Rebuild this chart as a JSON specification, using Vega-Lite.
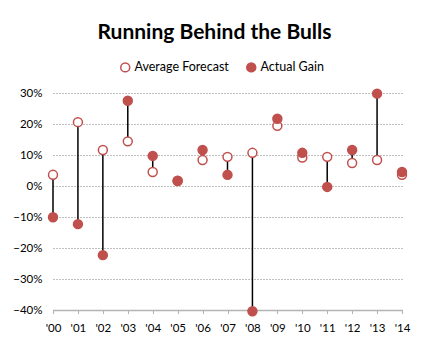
{
  "$schema": "https://vega.github.io/schema/vega-lite/v6.json",
  "autosize": "none",
  "width": 349,
  "height": 217,
  "padding": {"left": 53, "top": 93, "right": 29, "bottom": 40},
  "background": "white",
  "config": {
    "font": "Lato",
    "view": {"stroke": null},
    "axisY": {
      "title": null,
      "format": ".0%",
      "values": [-0.4, -0.3, -0.2, -0.1, 0, 0.1, 0.2, 0.3],
      "labelOverlap": false,
      "labelFont": "Lato",
      "labelFontSize": 11.5,
      "labelColor": "black",
      "labelPadding": 11,
      "ticks": false,
      "domain": false,
      "grid": true,
      "gridColor": "#808080",
      "gridDash": [1, 2],
      "gridWidth": 1
    }
  },
  "title": {
    "text": "Running Behind the Bulls",
    "font": "Lato",
    "fontSize": 21,
    "fontWeight": "bold",
    "color": "black",
    "anchor": "middle",
    "dx": -13,
    "offset": 18
  },
  "data": {
    "values": [
      {"year": "'00", "forecast": 0.036, "actual": -0.101},
      {"year": "'01", "forecast": 0.206, "actual": -0.123},
      {"year": "'02", "forecast": 0.116, "actual": -0.223},
      {"year": "'03", "forecast": 0.144, "actual": 0.275},
      {"year": "'04", "forecast": 0.045, "actual": 0.097},
      {"year": "'05", "forecast": 0.016, "actual": 0.017},
      {"year": "'06", "forecast": 0.084, "actual": 0.116},
      {"year": "'07", "forecast": 0.094, "actual": 0.036},
      {"year": "'08", "forecast": 0.107, "actual": -0.404},
      {"year": "'09", "forecast": 0.194, "actual": 0.217},
      {"year": "'10", "forecast": 0.092, "actual": 0.107},
      {"year": "'11", "forecast": 0.094, "actual": -0.003},
      {"year": "'12", "forecast": 0.074, "actual": 0.116},
      {"year": "'13", "forecast": 0.084, "actual": 0.298},
      {"year": "'14", "forecast": 0.036, "actual": 0.045}
    ]
  },
  "encoding": {
    "x": {
      "field": "year",
      "type": "ordinal",
      "sort": null,
      "scale": {"type": "point", "padding": 0},
      "axis": {
        "title": null,
        "labelAngle": 0,
        "labelFont": "Lato",
        "labelFontSize": 11.5,
        "labelColor": "black",
        "labelPadding": 9,
        "domainColor": "#b4b4b4",
        "domainWidth": 1.5,
        "tickColor": "#666666",
        "tickSize": 3,
        "tickDash": [1, 1],
        "grid": false
      }
    }
  },
  "resolve": {"axis": {"y": "shared"}},
  "layer": [
    {
      "mark": {"type": "rule", "color": "black", "strokeWidth": 1.5},
      "encoding": {
        "y": {
          "field": "forecast",
          "type": "quantitative",
          "scale": {"domain": [-0.4, 0.3], "nice": false}
        },
        "y2": {"field": "actual"}
      }
    },
    {
      "mark": {"type": "rule", "color": "black", "strokeWidth": 1.5},
      "encoding": {"y": {"datum": 0}}
    },
    {
      "transform": [{"fold": ["forecast", "actual"], "as": ["series", "value"]}],
      "mark": {"type": "point", "shape": "circle", "size": 80, "filled": false, "stroke": "#c0504d", "strokeWidth": 1.5, "opacity": 1},
      "encoding": {
        "y": {"field": "value", "type": "quantitative"},
        "fill": {
          "field": "series",
          "type": "nominal",
          "scale": {"domain": ["forecast", "actual"], "range": ["white", "#c0504d"]},
          "legend": {
            "title": null,
            "orient": "none",
            "legendX": 66,
            "legendY": -32,
            "direction": "horizontal",
            "labelExpr": "datum.value == 'forecast' ? 'Average Forecast' : 'Actual Gain'",
            "labelFont": "Lato",
            "labelFontSize": 12.5,
            "labelColor": "black",
            "symbolType": "circle",
            "symbolSize": 80,
            "symbolStrokeColor": "#c0504d",
            "symbolStrokeWidth": 1.5,
            "symbolOpacity": 1,
            "columnPadding": 14,
            "labelOffset": 3
          }
        }
      }
    }
  ]
}
